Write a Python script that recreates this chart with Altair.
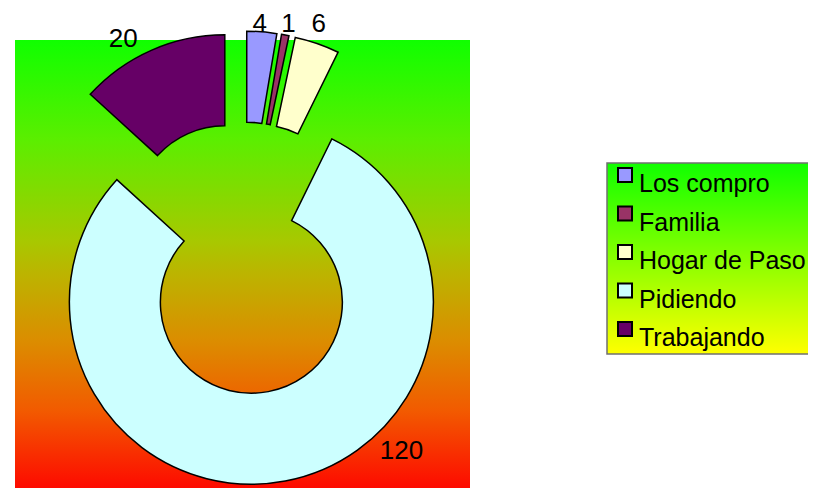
import altair as alt
import pandas as pd

categories = ["Los compro", "Familia", "Hogar de Paso", "Pidiendo", "Trabajando"]
values = [4, 1, 6, 120, 20]
colors = ["#9999FF", "#993366", "#FFFFCC", "#CCFFFF", "#660066"]

df = pd.DataFrame({"cat": categories, "value": values, "idx": list(range(len(categories)))})

CX, CY = 235, 250
R_OUT, R_IN = 182, 91
EXPLODE = 45
LABEL_R = 250
FONT = "Liberation Sans"

color_scale = alt.Scale(domain=categories, range=colors)

plot_gradient = {
    "gradient": "linear", "x1": 0, "y1": 0, "x2": 0, "y2": 1,
    "stops": [
        {"offset": 0.0, "color": "#10ff00"},
        {"offset": 0.22, "color": "#5cee00"},
        {"offset": 0.44, "color": "#a8c800"},
        {"offset": 0.51, "color": "#bcb400"},
        {"offset": 0.66, "color": "#dc8c00"},
        {"offset": 0.81, "color": "#f25a00"},
        {"offset": 1.0, "color": "#ff0000"},
    ],
}
legend_gradient = {
    "gradient": "linear", "x1": 0, "y1": 0, "x2": 0, "y2": 1,
    "stops": [
        {"offset": 0.0, "color": "#10ff00"},
        {"offset": 1.0, "color": "#ffff00"},
    ],
}

one = pd.DataFrame({"k": [0]})

plot_bg = alt.Chart(one).mark_rect(fill=plot_gradient).encode(
    x=alt.value(7), x2=alt.value(462), y=alt.value(32), y2=alt.value(490)
)
legend_bg = alt.Chart(one).mark_rect(fill=legend_gradient, stroke="#707070", strokeWidth=1.5).encode(
    x=alt.value(599), x2=alt.value(820), y=alt.value(155), y2=alt.value(346)
)

base = alt.Chart(df).transform_joinaggregate(
    total="sum(value)"
).transform_window(
    cum="sum(value)", sort=[alt.SortField("idx")], frame=[None, 0]
).transform_calculate(
    t0="(datum.cum - datum.value) / datum.total * 2 * PI",
    t1="datum.cum / datum.total * 2 * PI",
).transform_calculate(
    mid="(datum.t0 + datum.t1) / 2",
    la="datum.t0 + 0.4 * (datum.t1 - datum.t0)",
).transform_calculate(
    cx=f"{CX} + {EXPLODE} * sin(datum.mid)",
    cy=f"{CY} - {EXPLODE} * cos(datum.mid)",
    lx=f"{CX} + {LABEL_R} * sin(datum.la)",
    ly=f"max(16, {CY} - {LABEL_R} * cos(datum.la))",
)

arcs = base.mark_arc(radius=R_OUT, radius2=R_IN, stroke="black", strokeWidth=1.5).encode(
    theta=alt.Theta("t0:Q", scale=None, stack=False),
    theta2=alt.Theta2("t1"),
    x=alt.X("cx:Q", scale=None),
    y=alt.Y("cy:Q", scale=None),
    color=alt.Color("cat:N", scale=color_scale, legend=None),
)

labels = base.mark_text(font=FONT, fontSize=26, color="black", align="center", baseline="middle").encode(
    x=alt.X("lx:Q", scale=None),
    y=alt.Y("ly:Q", scale=None),
    text=alt.Text("value:Q"),
)

leg = alt.Chart(df).transform_calculate(
    sy="167 + 38.5 * datum.idx",
    ty="184 + 38.5 * datum.idx",
)
squares = leg.mark_square(size=196, stroke="black", strokeWidth=2, opacity=1).encode(
    x=alt.value(617),
    y=alt.Y("sy:Q", scale=None),
    color=alt.Color("cat:N", scale=color_scale, legend=None),
)
leg_text = leg.mark_text(font=FONT, fontSize=25, color="black", align="left", baseline="alphabetic").encode(
    x=alt.value(631),
    y=alt.Y("ty:Q", scale=None),
    text=alt.Text("cat:N"),
)

chart = alt.layer(plot_bg, legend_bg, arcs, labels, squares, leg_text).properties(
    width=800, height=480, padding=0, autosize=alt.AutoSizeParams(type="none"), background="white"
).configure_view(strokeOpacity=0)

chart.save("out.html", embed_options={"renderer": "svg", "actions": False})
